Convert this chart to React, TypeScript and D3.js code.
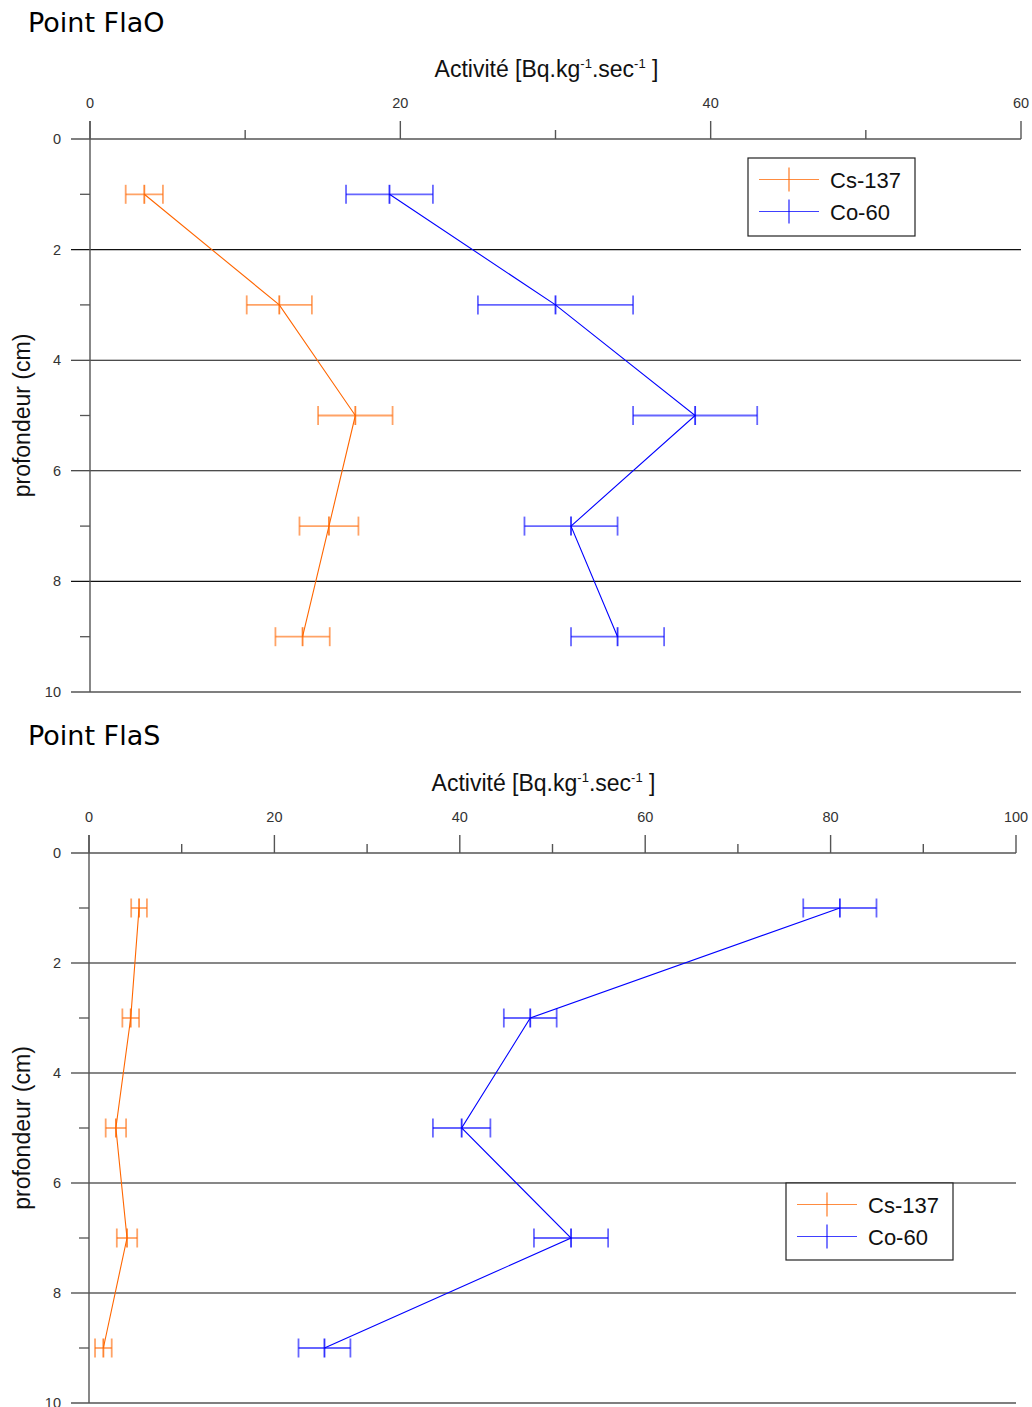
import React from "react";
import * as d3 from "d3";

const depths = [1, 3, 5, 7, 9];
const depthTicks = [0, 2, 4, 6, 8, 10];
const oddDepthTicks = [1, 3, 5, 7, 9];
const seriesNames = ["Cs-137", "Co-60"];

const flaOCs = [3.5, 12.2, 17.1, 15.4, 13.7];
const flaOCsErr = [1.2, 2.1, 2.4, 1.9, 1.75];
const flaOCo = [19.3, 30.0, 39.0, 31.0, 34.0];
const flaOCoErr = [2.8, 5.0, 4.0, 3.0, 3.0];

const flaSCs = [5.4, 4.5, 2.9, 4.1, 1.55];
const flaSCsErr = [0.85, 0.9, 1.1, 1.1, 0.9];
const flaSCo = [81.0, 47.6, 40.2, 52.0, 25.4];
const flaSCoErr = [3.95, 2.85, 3.1, 4.0, 2.8];

const topXLabels = [0, 20, 40, 60];
const bottomXLabels = [0, 20, 40, 60, 80, 100];

const CS_COLOR = "#ff6600";
const CO_COLOR = "#0000ff";
const AXIS_COLOR = "#555";
const GRID_COLOR = "#111";
const TICK_FONT = "'Liberation Sans', Arial, sans-serif";

type PanelProps = {
  title: string;
  titleY: number;
  xMax: number;
  xLabels: number[];
  xRange: [number, number];
  yRange: [number, number];
  cs: number[];
  csErr: number[];
  co: number[];
  coErr: number[];
  legend: { x: number; y: number; w: number; h: number };
  axisTitleY: number;
};

function ErrorSeries({ x, y, vals, errs, color }: any) {
  const line = d3
    .line<number>()
    .x((v) => x(v))
    .y((_, i) => y(depths[i]));
  const cap = 9.5;
  return (
    <g>
      <path d={line(vals) || ""} fill="none" stroke={color} strokeWidth={1.1} />
      {vals.map((v: number, i: number) => {
        const cy = y(depths[i]);
        const x0 = x(v - errs[i]);
        const x1 = x(v + errs[i]);
        const xc = x(v);
        return (
          <g key={i} stroke={color} strokeWidth={1.8} strokeOpacity={0.6}>
            <line x1={x0} x2={x1} y1={cy} y2={cy} />
            <line x1={x0} x2={x0} y1={cy - cap} y2={cy + cap} />
            <line x1={x1} x2={x1} y1={cy - cap} y2={cy + cap} />
            <line x1={xc} x2={xc} y1={cy - cap} y2={cy + cap} strokeOpacity={0.8} />
          </g>
        );
      })}
    </g>
  );
}

function Panel(p: PanelProps) {
  const x = d3.scaleLinear().domain([0, p.xMax]).range(p.xRange);
  const y = d3.scaleLinear().domain([0, 10]).range(p.yRange);
  const y0 = y(0);
  const x0 = x(0);
  const xEnd = p.xRange[1];
  const minorTicks = d3.range(0, p.xMax + 0.001, 10);
  const leftExt = 71;
  const midX = (p.xRange[0] + p.xRange[1]) / 2;
  const yMid = (p.yRange[0] + p.yRange[1]) / 2;
  const L = p.legend;
  return (
    <g>
      <text
        x={28}
        y={p.titleY}
        fontFamily="'DejaVu Sans', Verdana, sans-serif"
        fontSize={27}
        fill="#000"
      >
        {p.title}
      </text>
      <text
        x={midX - 9}
        y={p.axisTitleY}
        textAnchor="middle"
        fontFamily={TICK_FONT}
        fontSize={23}
        fill="#111"
      >
        Activité [Bq.kg
        <tspan fontSize={13} dy={-9}>-1</tspan>
        <tspan dy={9}>.sec</tspan>
        <tspan fontSize={13} dy={-9}>-1</tspan>
        <tspan dy={9}> ]</tspan>
      </text>
      <text
        transform={`translate(30,${yMid}) rotate(-90)`}
        textAnchor="middle"
        fontFamily={TICK_FONT}
        fontSize={23}
        fill="#111"
      >
        profondeur (cm)
      </text>

      {depthTicks.slice(1).map((d) => (
        <line
          key={d}
          x1={leftExt}
          x2={xEnd}
          y1={y(d)}
          y2={y(d)}
          stroke={d === 10 ? AXIS_COLOR : GRID_COLOR}
          strokeWidth={d === 10 ? 1.4 : 1.1}
        />
      ))}
      {oddDepthTicks.map((d) => (
        <line key={d} x1={x0 - 10} x2={x0} y1={y(d)} y2={y(d)} stroke={AXIS_COLOR} strokeWidth={1.3} />
      ))}
      <line x1={leftExt} x2={xEnd} y1={y0} y2={y0} stroke={AXIS_COLOR} strokeWidth={1.4} />
      {minorTicks.map((t) => {
        const major = p.xLabels.includes(t);
        return (
          <line
            key={t}
            x1={x(t)}
            x2={x(t)}
            y1={y0}
            y2={y0 - (major ? 18 : 9)}
            stroke={AXIS_COLOR}
            strokeWidth={1.4}
          />
        );
      })}
      <line x1={x0} x2={x0} y1={y0 - 18} y2={p.yRange[1]} stroke={AXIS_COLOR} strokeWidth={1.4} />
      {p.xLabels.map((t) => (
        <text
          key={t}
          x={x(t)}
          y={y0 - 31}
          textAnchor="middle"
          fontFamily={TICK_FONT}
          fontSize={14.5}
          fill="#333"
        >
          {t}
        </text>
      ))}
      {depthTicks.map((d) => (
        <text
          key={d}
          x={61}
          y={y(d) + 5}
          textAnchor="end"
          fontFamily={TICK_FONT}
          fontSize={14.5}
          fill="#333"
        >
          {d}
        </text>
      ))}

      <ErrorSeries x={x} y={y} vals={p.cs} errs={p.csErr} color={CS_COLOR} />
      <ErrorSeries x={x} y={y} vals={p.co} errs={p.coErr} color={CO_COLOR} />

      <rect x={L.x} y={L.y} width={L.w} height={L.h} fill="#fff" stroke="#222" strokeWidth={1.2} />
      {seriesNames.map((name, i) => {
        const ly = L.y + 21.5 + i * 32;
        const color = i === 0 ? CS_COLOR : CO_COLOR;
        return (
          <g key={name}>
            <line x1={L.x + 11} x2={L.x + 71} y1={ly} y2={ly} stroke={color} strokeWidth={1.2} strokeOpacity={0.75} />
            <line x1={L.x + 41} x2={L.x + 41} y1={ly - 12} y2={ly + 12} stroke={color} strokeWidth={1.4} strokeOpacity={0.75} />
            <text x={L.x + 82} y={ly + 8} fontFamily={TICK_FONT} fontSize={22} fill="#111">
              {name}
            </text>
          </g>
        );
      })}
    </g>
  );
}

export default function App() {
  return (
    <svg
      width={1032}
      height={1407}
      style={{ position: "absolute", left: 0, top: 0, background: "#fff" }}
    >
      <rect x={0} y={0} width={1032} height={1407} fill="#fff" />
      <Panel
        title="Point FlaO"
        titleY={32}
        axisTitleY={77}
        xMax={60}
        xLabels={topXLabels}
        xRange={[90, 1021]}
        yRange={[139, 692]}
        cs={flaOCs}
        csErr={flaOCsErr}
        co={flaOCo}
        coErr={flaOCoErr}
        legend={{ x: 748, y: 158, w: 167, h: 78 }}
      />
      <Panel
        title="Point FlaS"
        titleY={745}
        axisTitleY={791}
        xMax={100}
        xLabels={bottomXLabels}
        xRange={[89, 1016]}
        yRange={[853, 1403]}
        cs={flaSCs}
        csErr={flaSCsErr}
        co={flaSCo}
        coErr={flaSCoErr}
        legend={{ x: 786, y: 1183, w: 167, h: 77 }}
      />
    </svg>
  );
}
